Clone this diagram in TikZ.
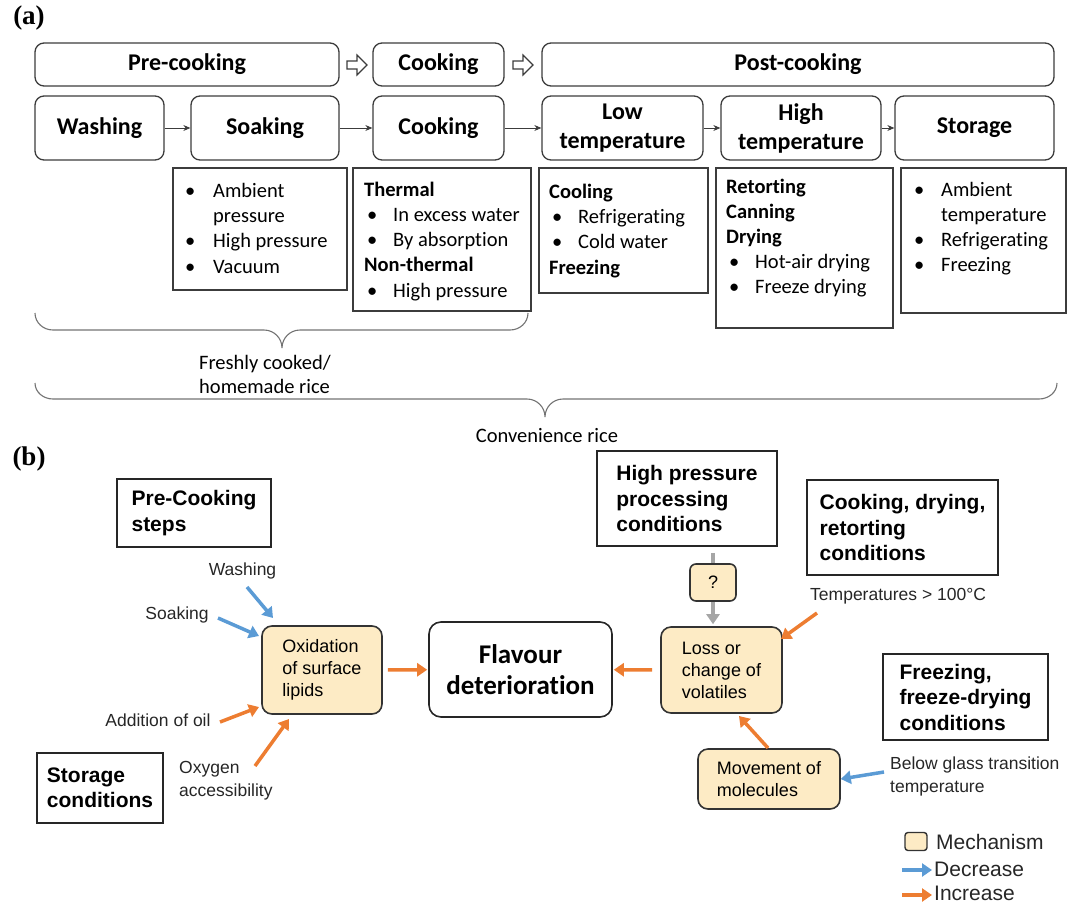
\documentclass[tikz,border=0pt]{standalone}
\usepackage{fontspec}
\setmainfont{Carlito}[Ligatures=NoCommon]
\newfontfamily\arialf{Liberation Sans}
\newfontfamily\timesf{Liberation Serif}
\usetikzlibrary{arrows.meta,calc}
\definecolor{cream}{HTML}{FDEBC5}
\definecolor{myblue}{HTML}{5B9BD5}
\definecolor{myorange}{HTML}{ED7D31}
\definecolor{mygray}{HTML}{A6A6A6}
\definecolor{edge}{HTML}{3C3C3C}
\newcommand\bul[1][28pt]{\makebox[#1][l]{\textbullet}}
\tikzset{
  hdr/.style={draw=edge, line width=1.3pt, rounded corners=9pt, font=\bfseries\fontsize{24}{29}\selectfont, align=center, inner sep=0pt},
  lbox/.style={draw=edge, line width=1.3pt, inner sep=0pt},
  lt/.style={font=\fontsize{20.5}{24}\selectfont, anchor=base west, inner sep=0pt},
  ltb/.style={font=\bfseries\fontsize{20.5}{24}\selectfont, anchor=base west, inner sep=0pt},
  flow/.style={-{Stealth[length=7pt,width=6pt]}, line width=0.9pt, draw=edge},
  openarrow/.style={draw=edge, line width=1.1pt, fill=white},
  brace/.style={draw=black!55, line width=1.1pt},
  cbox/.style={draw=black!85, line width=1.6pt, align=left, font=\arialf\bfseries\fontsize{21}{25.5}\selectfont, inner sep=0pt},
  mech/.style={draw=black!80, line width=1.6pt, fill=cream, rounded corners=10pt, align=left, font=\arialf\fontsize{18}{22}\selectfont, inner sep=0pt},
  lab/.style={font=\arialf\fontsize{17.5}{23}\selectfont, align=left, inner sep=0pt, text=black!85},
  inc/.style={draw=myorange, line width=3.5pt, -{Triangle[width=13pt,length=10pt]}},
  dec/.style={draw=myblue, line width=3.5pt, -{Triangle[width=13pt,length=10pt]}},
  grarrow/.style={draw=mygray, line width=3.5pt},
  legtext/.style={font=\arialf\fontsize{21}{24}\selectfont, inner sep=0pt, anchor=west, text=black!85},
}
\begin{document}
\begin{tikzpicture}[x=1pt,y=-1pt]
\useasboundingbox (0,0) rectangle (1069,903);
% ---------------- (a) ----------------
\node[font=\timesf\bfseries\fontsize{27}{30}\selectfont, inner sep=0pt] (la) at (29,18) {(a)};
% top row
\node[hdr, minimum width=304, minimum height=43] (pre) at (187,64.5) {Pre-cooking};
\node[hdr, minimum width=131, minimum height=43] (ck0) at (438.5,64.5) {Cooking};
\node[hdr, minimum width=512, minimum height=43] (post) at (798,64.5) {Post-cooking};
% open block arrows
\coordinate (oa1) at (347,65);
\coordinate (oa2) at (513,65);
\foreach \c in {oa1,oa2}{
  \draw[openarrow] ($(\c)+(0,-4)$) -- ++(10,0) -- ++(0,-6) -- ++(10,10) -- ++(-10,10) -- ++(0,-6) -- ++(-10,0) -- cycle;
}
% second row
\node[hdr, minimum width=129, minimum height=64] (wash) at (99.5,128) {Washing};
\node[hdr, minimum width=148, minimum height=64] (soak) at (265,128) {Soaking};
\node[hdr, minimum width=131, minimum height=64] (cook) at (438.5,128) {Cooking};
\node[hdr, minimum width=161, minimum height=64] (low) at (622.5,128) {Low\\temperature};
\node[hdr, minimum width=160, minimum height=64] (high) at (801,128) {High\\temperature};
\node[hdr, minimum width=159, minimum height=64] (stor) at (974.5,128) {Storage};
\draw[flow] (wash) -- (soak);
\draw[flow] (soak) -- (cook);
\draw[flow] (cook) -- (low);
\draw[flow] (low) -- (high);
\draw[flow] (high) -- (stor);
% list boxes
\node[lbox, minimum width=174, minimum height=122] (soakL) at (260,229) {};
\node[lbox, minimum width=178, minimum height=143] (cookL) at (442,239.5) {};
\node[lbox, minimum width=169, minimum height=125] (lowL) at (623.5,230.5) {};
\node[lbox, minimum width=177, minimum height=160] (highL) at (804.5,248) {};
\node[lbox, minimum width=165, minimum height=145] (storL) at (983.5,240.5) {};
% soaking list
\node[lt] (s1) at (185,197) {\bul Ambient};
\node[lt] (s2) at (213,222) {pressure};
\node[lt] (s3) at (185,247) {\bul High pressure};
\node[lt] (s4) at (185,273) {\bul Vacuum};
% cooking list
\node[ltb] (c1) at (364,196) {Thermal};
\node[lt] (c2) at (367,221) {\bul[26pt]In excess water};
\node[lt] (c3) at (367,246) {\bul[26pt]By absorption};
\node[ltb] (c4) at (364,271) {Non-thermal};
\node[lt] (c5) at (367,297) {\bul[26pt]High pressure};
% low temperature list
\node[ltb] (l1) at (549,198) {Cooling};
\node[lt] (l2) at (552,223) {\bul[26pt]Refrigerating};
\node[lt] (l3) at (552,248) {\bul[26pt]Cold water};
\node[ltb] (l4) at (549,274) {Freezing};
% high temperature list
\node[ltb] (h1) at (726,193) {Retorting};
\node[ltb] (h2) at (726,218) {Canning};
\node[ltb] (h3) at (726,243) {Drying};
\node[lt] (h4) at (729,268) {\bul[26pt]Hot-air drying};
\node[lt] (h5) at (729,293) {\bul[26pt]Freeze drying};
% storage list
\node[lt] (t1) at (914,196) {\bul[27pt]Ambient};
\node[lt] (t2) at (941,221) {temperature};
\node[lt] (t3) at (914,246) {\bul[27pt]Refrigerating};
\node[lt] (t4) at (914,271) {\bul[27pt]Freezing};
% braces
\draw[brace] (35,313) to[out=-90,in=180] (53,330) -- (264,330) to[out=0,in=90] (282,348)
             to[out=90,in=180] (300,330) -- (510,330) to[out=0,in=-90] (528,313);
\node[font=\fontsize{20.5}{23.5}\selectfont, align=left, inner sep=0pt, anchor=base west] (fresh) at (199,393) {Freshly cooked/\\homemade rice};
\draw[brace] (35,383) to[out=-90,in=180] (53,399) -- (527,399) to[out=0,in=90] (545,417)
             to[out=90,in=180] (563,399) -- (1039,399) to[out=0,in=-90] (1057,383);
\node[font=\fontsize{20.5}{24}\selectfont, inner sep=0pt, anchor=base] (conv) at (547,442) {Convenience rice};
% ---------------- (b) ----------------
\node[font=\timesf\bfseries\fontsize{27}{30}\selectfont, inner sep=0pt] (lb) at (29,459) {(b)};
\node[cbox, minimum width=154, minimum height=68] (pcs) at (194,513) {Pre-Cooking\\steps};
\node[cbox, minimum width=126, minimum height=70] (stc) at (100,788) {Storage\\conditions};
\node[cbox, minimum width=180, minimum height=95] (hpp) at (687,498.5) {High pressure\\processing\\conditions};
\node[cbox, minimum width=191, minimum height=95] (cdr) at (902.5,527.5) {Cooking, drying,\\retorting\\conditions};
\node[cbox, minimum width=165, minimum height=86] (frz) at (965.5,697) {Freezing,\\freeze-drying\\conditions};
\node[mech, minimum width=120, minimum height=88] (ox) at (322,670) {Oxidation\\of surface\\lipids};
\node[draw=black!85, line width=1.6pt, rounded corners=12pt, minimum width=183, minimum height=95, align=center, inner sep=0pt,
      font=\bfseries\fontsize{27}{31}\selectfont] (flav) at (520.5,669.5) {Flavour\\deterioration};
\node[mech, minimum width=121, minimum height=86] (loss) at (721.5,670) {Loss or\\change of\\volatiles};
\node[mech, minimum width=46, minimum height=37, rounded corners=6pt, align=center] (q) at (713,582.5) {?};
\node[mech, minimum width=142, minimum height=60] (mov) at (769,779) {Movement of\\molecules};
% labels
\node[lab] (lw) at (242.5,571) {Washing};
\node[lab] (ls) at (177,615) {Soaking};
\node[lab] (lo) at (158,720) {Addition of oil};
\node[lab, anchor=west] (lx) at (179,781) {Oxygen\\accessibility};
\node[lab, anchor=west] (lt1) at (810,596) {Temperatures > 100°C};
\node[lab, anchor=west] (lg) at (890,776) {Below glass transition\\temperature};
% arrows
\coordinate (w0) at (247,587);  \coordinate (w1) at (273,618);
\coordinate (k0) at (218,618);  \coordinate (k1) at (259,636);
\coordinate (a0) at (220,722);  \coordinate (a1) at (259,707);
\coordinate (x0) at (255,766);  \coordinate (x1) at (289,719);
\coordinate (t0) at (817,613);  \coordinate (t1) at (781,639);
\coordinate (m0) at (768,748);  \coordinate (m1) at (739,716);
\coordinate (g0) at (884,772);
\draw[dec] (w0) -- (w1);
\draw[dec] (k0) -- (k1);
\draw[inc] (a0) -- (a1);
\draw[inc] (x0) -- (x1);
\draw[inc, shorten <=5pt, shorten >=1pt] (ox) -- (flav);
\draw[inc, shorten <=8pt, shorten >=1pt] (loss) -- (flav);
\draw[inc] (t0) -- (t1);
\draw[inc] (m0) -- (m1);
\draw[dec] (g0) -- (mov.east);
\draw[grarrow] ($(q.north |- hpp.south)+(0,6)$) -- (q.north);
\draw[grarrow, -{Triangle[width=13pt,length=10pt]}] (q.south) -- ($(q.south |- loss.north)+(0,-2)$);
% legend
\node[mech, minimum width=22, minimum height=18, rounded corners=3pt, line width=1.4pt] (legm) at (916,841.5) {};
\node[legtext] (legmt) at (936,842) {Mechanism};
\coordinate (ld0) at (902,870); \coordinate (ld1) at (932,870);
\coordinate (li0) at (902,895); \coordinate (li1) at (932,895);
\draw[dec] (ld0) -- (ld1);
\draw[inc] (li0) -- (li1);
\node[legtext] (legd) at (934,869) {Decrease};
\node[legtext] (legi) at (934,893.5) {Increase};
\end{tikzpicture}
\end{document}
